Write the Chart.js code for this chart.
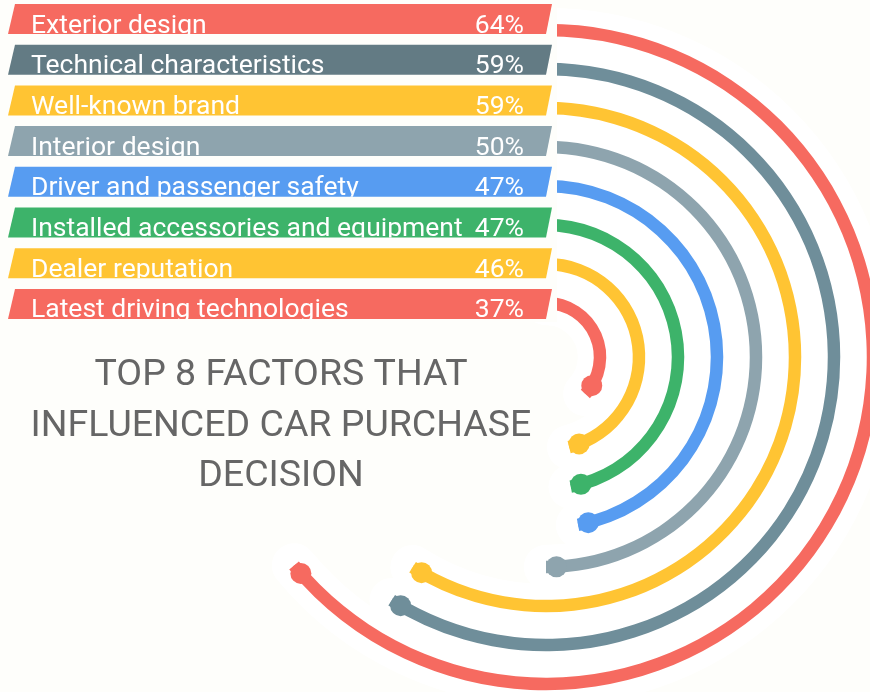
<!DOCTYPE html>
<html>
<head>
<meta charset="utf-8">
<title>Top 8 factors that influenced car purchase decision</title>
<script src="https://cdn.jsdelivr.net/npm/chart.js@4.4.1/dist/chart.umd.min.js"></script>
<style>
  html, body { margin: 0; padding: 0; background: #fefefb; }
  #factorsChart { display: block; }
</style>
</head>
<body>
<canvas id="factorsChart" width="870" height="692"></canvas>
<script>
// Survey answers, first row = outermost ring
var factorLabels = [
  'Exterior design',
  'Technical characteristics',
  'Well-known brand',
  'Interior design',
  'Driver and passenger safety',
  'Installed accessories and equipment',
  'Dealer reputation',
  'Latest driving technologies'
];
var factorShares = [64, 59, 59, 50, 47, 47, 46, 37];
var bannerColors = ['#f66a60', '#637b84', '#ffc433', '#8ea4ae', '#579cf1', '#3db36a', '#ffc433', '#f66a60'];
var arcColors = ['#f66a60', '#6f8e9a', '#ffc433', '#8ea4ae', '#579cf1', '#3db36a', '#ffc433', '#f66a60'];
var titleLines = ['TOP 8 FACTORS THAT', 'INFLUENCED CAR PURCHASE', 'DECISION'];

var pageColor = '#fefefb';
var ringWidth = 12.5;   // thickness of one ring
var ringGap = 26.5;     // empty space between rings
var dotRadius = 10.5;
var haloWidth = 16;     // white band around every ring

// one ring per factor, with a transparent spacer ring in between
var datasets = [];
factorShares.forEach(function (share, i) {
  datasets.push({
    label: factorLabels[i],
    data: [share, 100 - share],
    backgroundColor: [arcColors[i], 'rgba(0,0,0,0)'],
    borderWidth: 0,
    weight: ringWidth,
    isShare: true
  });
  if (i < factorShares.length - 1) {
    datasets.push({
      label: 'gap',
      data: [100],
      backgroundColor: ['rgba(0,0,0,0)'],
      borderWidth: 0,
      weight: ringGap
    });
  }
});

function shareArcs(chart) {
  var arcs = [];
  chart.data.datasets.forEach(function (ds, i) {
    if (ds.isShare) {
      arcs.push(chart.getDatasetMeta(i).data[0]);
    }
  });
  return arcs;
}

var ringDecor = {
  id: 'ringDecor',
  beforeDatasetsDraw: function (chart) {
    var ctx = chart.ctx;
    ctx.save();
    ctx.strokeStyle = '#ffffff';
    ctx.lineCap = 'round';
    ctx.lineWidth = ringWidth + haloWidth * 2;
    shareArcs(chart).forEach(function (arc) {
      var r = (arc.innerRadius + arc.outerRadius) / 2;
      ctx.beginPath();
      ctx.arc(arc.x, arc.y, r, arc.startAngle, arc.endAngle);
      ctx.stroke();
    });
    ctx.restore();
  },
  afterDatasetsDraw: function (chart) {
    var ctx = chart.ctx;
    var arcs = shareArcs(chart);
    ctx.save();

    // round dot closing each ring
    arcs.forEach(function (arc, i) {
      var r = (arc.innerRadius + arc.outerRadius) / 2;
      var a = arc.endAngle - dotRadius / r;
      ctx.fillStyle = arcColors[i];
      ctx.beginPath();
      ctx.arc(arc.x + r * Math.cos(a), arc.y + r * Math.sin(a), dotRadius, 0, Math.PI * 2);
      ctx.fill();
    });

    // banners on the left
    var rowTop = 4, rowStep = 40.7, rowH = 30;
    var bannerLeft = 8, bannerRight = 552, slant = 7;
    ctx.fillStyle = pageColor;
    ctx.fillRect(0, 0, arcs[0].x + 11, rowTop + rowStep * 7 + rowH + 3);

    ctx.font = '26.5px Roboto';
    ctx.textBaseline = 'alphabetic';
    factorLabels.forEach(function (label, i) {
      var top = rowTop + i * rowStep;
      ctx.save();
      ctx.beginPath();
      ctx.moveTo(bannerLeft + slant, top);
      ctx.lineTo(bannerRight, top);
      ctx.lineTo(bannerRight - slant + 1, top + rowH);
      ctx.lineTo(bannerLeft, top + rowH);
      ctx.closePath();
      ctx.fillStyle = bannerColors[i];
      ctx.fill();
      ctx.clip();
      ctx.fillStyle = '#ffffff';
      ctx.textAlign = 'left';
      ctx.fillText(label, 31, top + 28.5);
      ctx.textAlign = 'right';
      ctx.fillText(factorShares[i] + '%', 524, top + 28.5);
      ctx.restore();
    });

    // caption in the middle left
    ctx.fillStyle = '#666666';
    ctx.font = '37.5px Roboto';
    ctx.textAlign = 'center';
    titleLines.forEach(function (line, i) {
      ctx.fillText(line, 281, 385 + i * 50.5);
    });
    ctx.restore();
  }
};

new Chart(document.getElementById('factorsChart'), {
  type: 'doughnut',
  data: {
    labels: ['share', 'rest'],
    datasets: datasets
  },
  options: {
    responsive: false,
    devicePixelRatio: 1,
    animation: false,
    events: [],
    radius: 333.25,
    cutout: '14.33%',
    layout: { padding: { left: 222, right: 0, top: 22, bottom: 0 } },
    plugins: {
      legend: { display: false },
      tooltip: { enabled: false }
    }
  },
  plugins: [ringDecor]
});
</script>
</body>
</html>
